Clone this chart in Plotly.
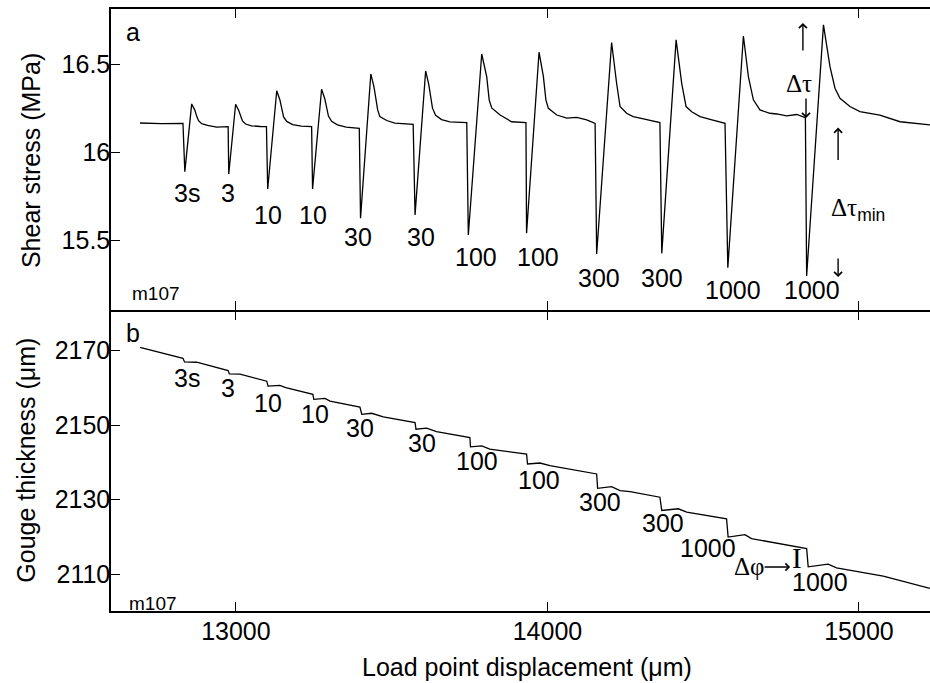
import plotly.graph_objects as go
from plotly.subplots import make_subplots

# ---------------- data ----------------
# Panel a: shear stress (MPa) vs load point displacement (um)
stress_x = [
    12692, 12760, 12830,
    12836, 12858, 12868, 12874, 12880, 12890, 12909, 12938, 12975,
    12977, 12999, 13009, 13015, 13021, 13031, 13050, 13078, 13098,
    13102, 13131, 13141, 13147, 13153, 13163, 13182, 13210, 13243,
    13246, 13275, 13285, 13291, 13297, 13307, 13326, 13354, 13396,
    13400, 13433, 13443, 13449, 13455, 13462, 13484, 13510, 13569,
    13575, 13609, 13619, 13625, 13631, 13641, 13660, 13687, 13741,
    13746, 13789, 13805, 13813, 13821, 13848, 13885, 13931,
    13933, 13973, 13987, 13995, 14003, 14030, 14062, 14094, 14126, 14153,
    14158, 14206, 14222, 14233, 14254, 14275, 14308, 14361,
    14367, 14413, 14431, 14445, 14463, 14490, 14522, 14570,
    14579, 14629, 14645, 14661, 14682, 14714, 14736, 14768, 14800, 14828,
    14832, 14886, 14907, 14923, 14939, 14971, 15003, 15067, 15132, 15180, 15228,
]
stress_y = [
    16.166, 16.162, 16.164,
    15.890, 16.274, 16.239, 16.205, 16.179, 16.162, 16.152, 16.143, 16.145,
    15.877, 16.272, 16.237, 16.203, 16.178, 16.160, 16.150, 16.146, 16.145,
    15.792, 16.349, 16.298, 16.245, 16.200, 16.175, 16.157, 16.148, 16.145,
    15.792, 16.357, 16.305, 16.250, 16.205, 16.175, 16.155, 16.143, 16.135,
    15.626, 16.444, 16.372, 16.297, 16.240, 16.202, 16.180, 16.165, 16.158,
    15.645, 16.461, 16.385, 16.310, 16.250, 16.210, 16.185, 16.172, 16.168,
    15.531, 16.557, 16.429, 16.297, 16.251, 16.211, 16.173, 16.168,
    15.541, 16.567, 16.429, 16.297, 16.249, 16.211, 16.193, 16.198, 16.183, 16.164,
    15.423, 16.622, 16.391, 16.259, 16.221, 16.202, 16.189, 16.168,
    15.427, 16.637, 16.391, 16.259, 16.230, 16.202, 16.187, 16.164,
    15.346, 16.659, 16.429, 16.297, 16.240, 16.221, 16.217, 16.206, 16.214, 16.196,
    15.299, 16.722, 16.485, 16.363, 16.306, 16.259, 16.230, 16.211, 16.173, 16.164, 16.155,
]

# Panel b: gouge thickness (um)
thick_x = [
    12692, 12830, 12835, 12874, 12975, 12979, 13013, 13099, 13103, 13141,
    13160, 13247, 13250, 13286, 13302, 13398, 13404, 13436, 13473, 13575,
    13578, 13612, 13644, 13751, 13753, 13789, 13815, 13933, 13936, 13976,
    14008, 14158, 14161, 14206, 14233, 14265, 14361, 14367, 14420, 14447,
    14575, 14580, 14634, 14655, 14832, 14837, 14901, 14928, 15078, 15228,
]
thick_y = [
    2170.88, 2167.94, 2166.96, 2166.88, 2164.66, 2163.75, 2163.67, 2161.80, 2160.47, 2160.65,
    2160.07, 2158.25, 2156.92, 2157.18, 2156.46, 2154.86, 2152.91, 2153.18, 2152.19, 2150.67,
    2148.91, 2149.17, 2148.26, 2146.66, 2144.18, 2144.45, 2143.56, 2142.23, 2139.56, 2139.83,
    2139.11, 2136.89, 2133.04, 2133.50, 2132.43, 2132.16, 2130.64, 2127.09, 2127.54, 2126.64,
    2124.87, 2119.96, 2120.60, 2119.53, 2116.86, 2111.95, 2112.67, 2111.68, 2109.47, 2106.18,
]

hold_labels = ["3s", "3", "10", "10", "30", "30", "100", "100", "300", "300", "1000", "1000"]
top_label_x = [12843, 12974, 13103, 13247, 13392, 13593, 13771, 13970, 14165, 14367, 14597, 14850]
top_label_y = [15.769, 15.769, 15.644, 15.644, 15.519, 15.519, 15.408, 15.408, 15.286, 15.286, 15.219, 15.219]
bot_label_x = [12842, 12975, 13103, 13254, 13398, 13596, 13773, 13974, 14169, 14372, 14516, 14875]
bot_label_y = [2162.7, 2159.9, 2156.0, 2152.9, 2149.1, 2145.3, 2140.3, 2135.3, 2129.3, 2123.7, 2116.9, 2108.0]

x_ticks = [13000, 14000, 15000]
stress_ticks = [15.5, 16, 16.5]
stress_ticktext = ["15.5", "16", "16.5"]
thick_ticks = [2110, 2130, 2150, 2170]

# arrow tips (data) and tail offsets (px) for the Δτ / Δτmin markers
arrow_tip_x = [14820, 14830, 14933, 14933]
arrow_tip_y = [16.733, 16.194, 16.140, 15.293]
arrow_tail_dy = [29, -21, 34, -20]

# ---------------- figure ----------------
FONT = "Liberation Sans, Arial, Helvetica, sans-serif"
SERIF = "Liberation Serif, Times New Roman, serif"
FS = 25

fig = make_subplots(rows=2, cols=1, shared_xaxes=False, vertical_spacing=0)

fig.add_trace(go.Scatter(x=stress_x, y=stress_y, mode="lines",
                         line=dict(color="black", width=1.3), showlegend=False, hoverinfo="skip"),
              row=1, col=1)
fig.add_trace(go.Scatter(x=thick_x, y=thick_y, mode="lines",
                         line=dict(color="black", width=1.3), showlegend=False, hoverinfo="skip"),
              row=2, col=1)

xr = [12599, 15228]
axis_common = dict(showline=True, linecolor="black", linewidth=1.5, ticks="inside",
                   ticklen=9, tickwidth=1.2, tickcolor="black", showgrid=False, zeroline=False,
                   tickfont=dict(family=FONT, size=FS, color="black"))

fig.update_xaxes(range=xr, tickvals=x_ticks, mirror="ticks", **axis_common)
fig.update_xaxes(showticklabels=False, row=1, col=1)
fig.update_xaxes(ticktext=[str(v) for v in x_ticks], ticklabelstandoff=-3, row=2, col=1)
fig.update_yaxes(ticklabelstandoff=-6, **axis_common)
fig.update_yaxes(range=[15.106, 16.812], tickvals=stress_ticks, ticktext=stress_ticktext,
                 row=1, col=1)
fig.update_yaxes(range=[2100.1, 2180.5], tickvals=thick_ticks,
                 ticktext=[str(v) for v in thick_ticks], row=2, col=1)

fig.update_layout(
    yaxis=dict(domain=[0.5, 1.0]),
    yaxis2=dict(domain=[0.0, 0.4975]),
)

txt = dict(family=FONT, size=FS, color="black")
ann = []
for t, x, y in zip(hold_labels, top_label_x, top_label_y):
    ann.append(dict(x=x, y=y, xref="x", yref="y", text=t, showarrow=False, font=txt))
for t, x, y in zip(hold_labels, bot_label_x, bot_label_y):
    ann.append(dict(x=x, y=y, xref="x2", yref="y2", text=t, showarrow=False, font=txt))

# panel letters and run labels
ann += [
    dict(x=12669, y=16.682, xref="x", yref="y", text="a", showarrow=False, font=txt),
    dict(x=12669, y=2174.6, xref="x2", yref="y2", text="b", showarrow=False, font=txt),
    dict(x=12745, y=15.20, xref="x", yref="y", text="m107", showarrow=False,
         font=dict(family=FONT, size=19, color="black")),
    dict(x=12735, y=2102.2, xref="x2", yref="y2", text="m107", showarrow=False,
         font=dict(family=FONT, size=19, color="black")),
]

# delta-tau arrows and labels
for x, y, dy in zip(arrow_tip_x, arrow_tip_y, arrow_tail_dy):
    ann.append(dict(x=x, y=y, xref="x", yref="y", text="", showarrow=True,
                    ax=0, ay=dy, arrowhead=4, arrowsize=1.1, arrowwidth=1.4,
                    arrowcolor="black", standoff=0, startstandoff=0))
ann += [
    dict(x=14808, y=16.391, xref="x", yref="y", text="Δτ", showarrow=False,
         font=dict(family=SERIF, size=FS, color="black")),
    dict(x=14997, y=15.673, xref="x", yref="y",
         text="Δτ<sub><span style='font-family:Liberation Sans'>min</span></sub>",
         showarrow=False, font=dict(family=SERIF, size=FS, color="black")),
]

# delta-phi marker in panel b
ann += [
    dict(x=14647, y=2112.1, xref="x2", yref="y2", text="Δφ", showarrow=False,
         font=dict(family=SERIF, size=FS, color="black")),
    dict(x=14779, y=2111.9, xref="x2", yref="y2", text="", showarrow=True,
         ax=-27, ay=0, arrowhead=4, arrowsize=1.0, arrowwidth=1.4, arrowcolor="black",
         standoff=0, startstandoff=0),
    dict(x=14801, y=2114.3, xref="x2", yref="y2", text="I", showarrow=False,
         font=dict(family=SERIF, size=29, color="black")),
]

# axis titles
ann += [
    dict(x=-0.0977, y=0.749, xref="paper", yref="paper", text="Shear stress (MPa)",
         textangle=-90, showarrow=False, xanchor="center", yanchor="middle", font=txt),
    dict(x=-0.104, y=0.251, xref="paper", yref="paper", text="Gouge thickness (μm)",
         textangle=-90, showarrow=False, xanchor="center", yanchor="middle", font=txt),
    dict(x=0.5085, y=-0.093, xref="paper", yref="paper", text="Load point displacement (μm)",
         showarrow=False, xanchor="center", yanchor="middle", font=txt),
]

fig.update_layout(
    width=930, height=683,
    margin=dict(l=111, r=0, t=9, b=72),
    paper_bgcolor="white", plot_bgcolor="white",
    annotations=ann,
    font=txt,
)

fig.write_html("out.html")
